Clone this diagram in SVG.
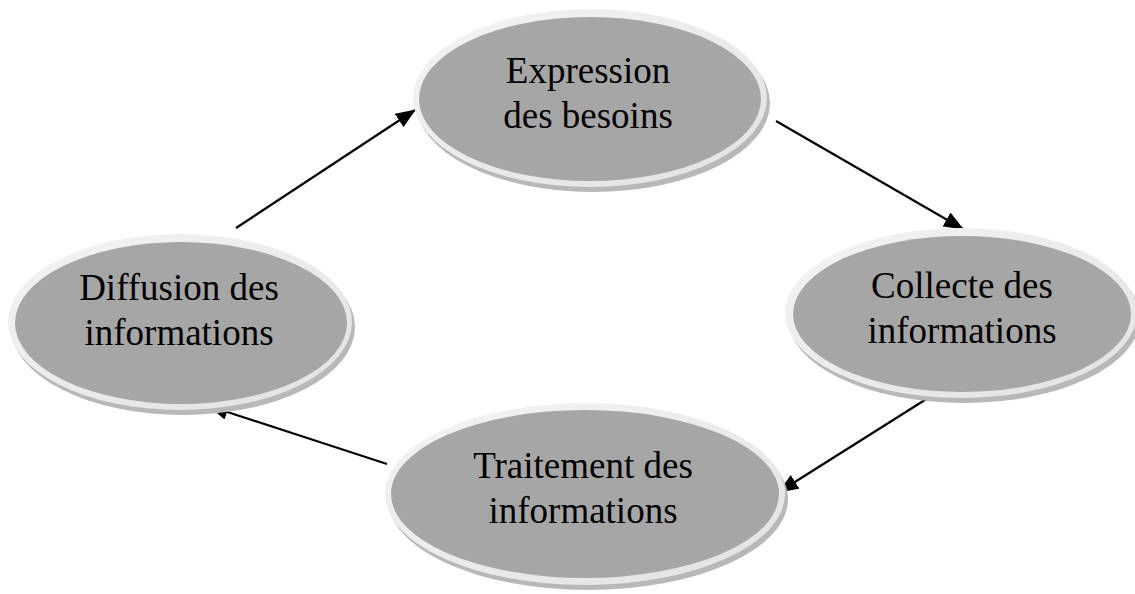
<svg xmlns="http://www.w3.org/2000/svg" width="1135" height="594" viewBox="0 0 1135 594">
  <defs>
    <linearGradient id="rim" x1="0" y1="0" x2="1" y2="1">
      <stop offset="0" stop-color="#F4F4F4"/>
      <stop offset="1" stop-color="#E2E2E2"/>
    </linearGradient>
    <marker id="head" viewBox="0 0 20 16" refX="19" refY="8" markerWidth="20" markerHeight="16" markerUnits="userSpaceOnUse" orient="auto">
      <path d="M0,0 L20,8 L0,16 z" fill="#000"/>
    </marker>
  </defs>
  <style>
    .shadow { fill: #B8B8B8; }
    .rim { fill: url(#rim); }
    .face { fill: #A6A6A6; }
    .label { font-family: "Liberation Serif", "Times New Roman", serif; font-size: 37px; fill: #000; text-anchor: middle; }
    .link { stroke: #000; stroke-width: 2.2; fill: none; marker-end: url(#head); }
  </style>
  <rect width="1135" height="594" fill="#fff"/>

  <g id="connectors">
    <line class="link" x1="236" y1="228" x2="415" y2="110"/>
    <line class="link" x1="776" y1="121" x2="963" y2="229"/>
    <line class="link" x1="928" y1="398" x2="779" y2="492"/>
    <line class="link" x1="387" y1="464" x2="209" y2="406"/>
  </g>

  <g id="node-expression">
    <ellipse class="shadow" cx="593" cy="103" rx="177" ry="89"/>
    <ellipse class="rim" cx="590" cy="98" rx="177" ry="89"/>
    <ellipse class="face" cx="590" cy="99" rx="171" ry="82"/>
    <text class="label" x="588" y="83">Expression</text>
    <text class="label" x="588" y="128">des besoins</text>
  </g>

  <g id="node-collecte">
    <ellipse class="shadow" cx="964" cy="318" rx="176" ry="85"/>
    <ellipse class="rim" cx="961" cy="313" rx="176" ry="85"/>
    <ellipse class="face" cx="962" cy="314" rx="169" ry="78"/>
    <text class="label" x="962" y="298">Collecte des</text>
    <text class="label" x="962" y="343">informations</text>
  </g>

  <g id="node-traitement">
    <ellipse class="shadow" cx="588" cy="499" rx="200" ry="91"/>
    <ellipse class="rim" cx="585" cy="494" rx="200" ry="91"/>
    <ellipse class="face" cx="585" cy="494" rx="194" ry="84"/>
    <text class="label" x="583" y="478">Traitement des</text>
    <text class="label" x="583" y="523">informations</text>
  </g>

  <g id="node-diffusion">
    <ellipse class="shadow" cx="183" cy="327" rx="172" ry="88"/>
    <ellipse class="rim" cx="180" cy="322" rx="172" ry="88"/>
    <ellipse class="face" cx="181" cy="323" rx="166" ry="81"/>
    <text class="label" x="179" y="300">Diffusion des</text>
    <text class="label" x="179" y="345">informations</text>
  </g>
</svg>
